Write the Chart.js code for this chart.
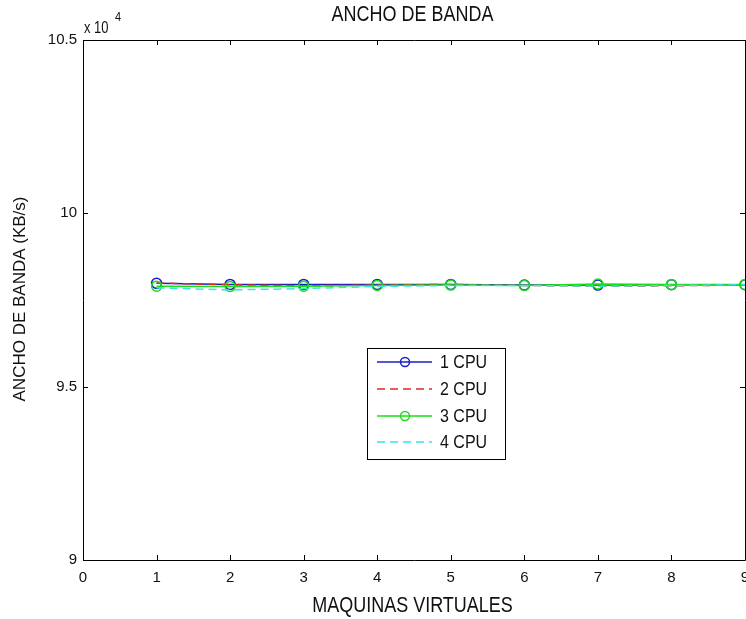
<!DOCTYPE html>
<html>
<head>
<meta charset="utf-8">
<script src="https://cdn.jsdelivr.net/npm/chart.js@4/dist/chart.umd.min.js"></script>
<style>
  html, body { margin: 0; padding: 0; overflow: hidden; background: #ffffff; }
  #wrap { position: relative; width: 760px; height: 619px; }
</style>
</head>
<body>
<div id="wrap"><canvas id="c"></canvas></div>
<script>
// ---- data ----
const categories = [1, 2, 3, 4, 5, 6, 7, 8, 9];
const cpu1 = [97980, 97950, 97950, 97950, 97950, 97930, 97930, 97940, 97940];
const cpu2 = [97990, 97940, 97910, 97930, 97950, 97920, 97900, 97910, 97930];
const cpu3 = [97900, 97890, 97900, 97920, 97930, 97920, 97960, 97950, 97950];
const cpu4 = [97850, 97790, 97830, 97890, 97920, 97920, 97900, 97920, 97940];
const seriesNames = ['1 CPU', '2 CPU', '3 CPU', '4 CPU'];
const xTicks = [0, 1, 2, 3, 4, 5, 6, 7, 8, 9];
const yTicks = [90000, 95000, 100000, 105000];
const chartTitle = 'ANCHO DE BANDA';
const xTitle = 'MAQUINAS VIRTUALES';
const yTitle = 'ANCHO DE BANDA (KB/s)';

const FONT = '"Liberation Sans", Arial, Helvetica, sans-serif';
const toPts = arr => categories.map((x, i) => ({ x: x, y: arr[i] }));

const styles = [
  { color: '#1c1cc8', dash: [], marker: true },
  { color: '#e02828', dash: [8, 5], marker: false },
  { color: '#18e018', dash: [], marker: true },
  { color: '#38e4e4', dash: [8, 5], marker: false }
];
const seriesData = [cpu1, cpu2, cpu3, cpu4];

const datasets = seriesData.map((arr, i) => ({
  label: seriesNames[i],
  data: toPts(arr),
  borderColor: styles[i].color,
  backgroundColor: 'rgba(0,0,0,0)',
  borderWidth: 1.5,
  borderDash: styles[i].dash,
  pointRadius: styles[i].marker ? 5 : 0,
  pointHoverRadius: styles[i].marker ? 5 : 0,
  pointBorderColor: styles[i].color,
  pointBackgroundColor: 'rgba(0,0,0,0)',
  pointBorderWidth: 1.5,
  tension: 0,
  clip: false,
  order: 4 - i
}));

// text with an optional vertical stretch, as in the reference
function stretchedText(ctx, text, x, y, size, align, rotate, sy) {
  ctx.save();
  ctx.translate(x, y);
  ctx.scale(1, sy);
  if (rotate) ctx.rotate(-Math.PI / 2);
  ctx.font = size + 'px ' + FONT;
  ctx.textAlign = align;
  ctx.textBaseline = 'middle';
  ctx.fillText(text, 0, 0);
  ctx.restore();
}

const framePlugin = {
  id: 'frame',
  afterDatasetsDraw(chart) {
    const ctx = chart.ctx;
    const a = chart.chartArea;
    const xs = chart.scales.x, ys = chart.scales.y;
    ctx.save();
    ctx.strokeStyle = '#000';
    ctx.lineWidth = 1;
    ctx.beginPath();
    ctx.rect(Math.round(a.left) + 0.5, Math.round(a.top) + 0.5,
             Math.round(a.right - a.left), Math.round(a.bottom - a.top));
    ctx.stroke();
    const tl = 5;
    ctx.beginPath();
    xTicks.forEach(v => {
      const px = Math.round(xs.getPixelForValue(v)) + 0.5;
      ctx.moveTo(px, a.bottom); ctx.lineTo(px, a.bottom - tl);
      ctx.moveTo(px, a.top); ctx.lineTo(px, a.top + tl);
    });
    yTicks.forEach(v => {
      const py = Math.round(ys.getPixelForValue(v)) + 0.5;
      ctx.moveTo(a.left, py); ctx.lineTo(a.left + tl, py);
      ctx.moveTo(a.right, py); ctx.lineTo(a.right - tl, py);
    });
    ctx.stroke();

    ctx.fillStyle = '#111';
    // chart title
    stretchedText(ctx, chartTitle, (a.left + 742) / 2, 15, 18, 'center', false, 1.2);
    // axis titles
    stretchedText(ctx, xTitle, (a.left + 742) / 2, 606, 18, 'center', false, 1.2);
    stretchedText(ctx, yTitle, 20, (a.top + a.bottom) / 2 - 1, 17, 'center', true, 1);
    // exponent
    stretchedText(ctx, 'x 10', a.left + 1, 29, 13, 'left', false, 1.2);
    stretchedText(ctx, '4', a.left + 32, 17, 11, 'left', false, 1.2);

    // legend
    const bx = 367, by = 348, bw = 138, bh = 111;
    ctx.fillStyle = '#fff';
    ctx.fillRect(bx, by, bw, bh);
    ctx.strokeStyle = '#000';
    ctx.lineWidth = 1;
    ctx.strokeRect(bx + 0.5, by + 0.5, bw, bh);
    const rows = [362, 389, 416, 442];
    datasets.forEach((d, i) => {
      const y = rows[i];
      ctx.strokeStyle = d.borderColor;
      ctx.lineWidth = 1.5;
      ctx.setLineDash(d.borderDash);
      ctx.beginPath();
      ctx.moveTo(377, y); ctx.lineTo(432, y);
      ctx.stroke();
      ctx.setLineDash([]);
      if (d.pointRadius > 0) {
        ctx.beginPath();
        ctx.arc(405, y, 4.5, 0, Math.PI * 2);
        ctx.stroke();
      }
      ctx.fillStyle = '#111';
      stretchedText(ctx, d.label, 440, y + 1, 16, 'left', false, 1.2);
    });
    ctx.restore();
  }
};

new Chart(document.getElementById('c'), {
  type: 'line',
  data: { datasets: datasets },
  options: {
    responsive: true,
    maintainAspectRatio: false,
    animation: false,
    events: [],
    layout: { padding: { top: 40, right: 15, bottom: 0, left: 0 } },
    plugins: { legend: { display: false }, title: { display: false }, tooltip: { enabled: false } },
    scales: {
      x: {
        type: 'linear',
        min: 0, max: 9,
        afterBuildTicks: s => { s.ticks = xTicks.map(v => ({ value: v })); },
        afterFit: s => { s.height = 59; },
        grid: { display: false, drawTicks: false },
        border: { display: false },
        ticks: { color: '#111', font: { family: FONT, size: 15 }, padding: 9, maxRotation: 0, autoSkip: false },
        title: { display: false }
      },
      y: {
        type: 'linear',
        min: 90000, max: 105000,
        afterBuildTicks: s => { s.ticks = yTicks.map(v => ({ value: v })); },
        afterFit: s => { s.width = 83; },
        grid: { display: false, drawTicks: false },
        border: { display: false },
        ticks: { color: '#111', font: { family: FONT, size: 15 }, padding: 6, callback: v => String(v / 10000) },
        title: { display: false }
      }
    }
  },
  plugins: [framePlugin]
});
</script>
</body>
</html>
